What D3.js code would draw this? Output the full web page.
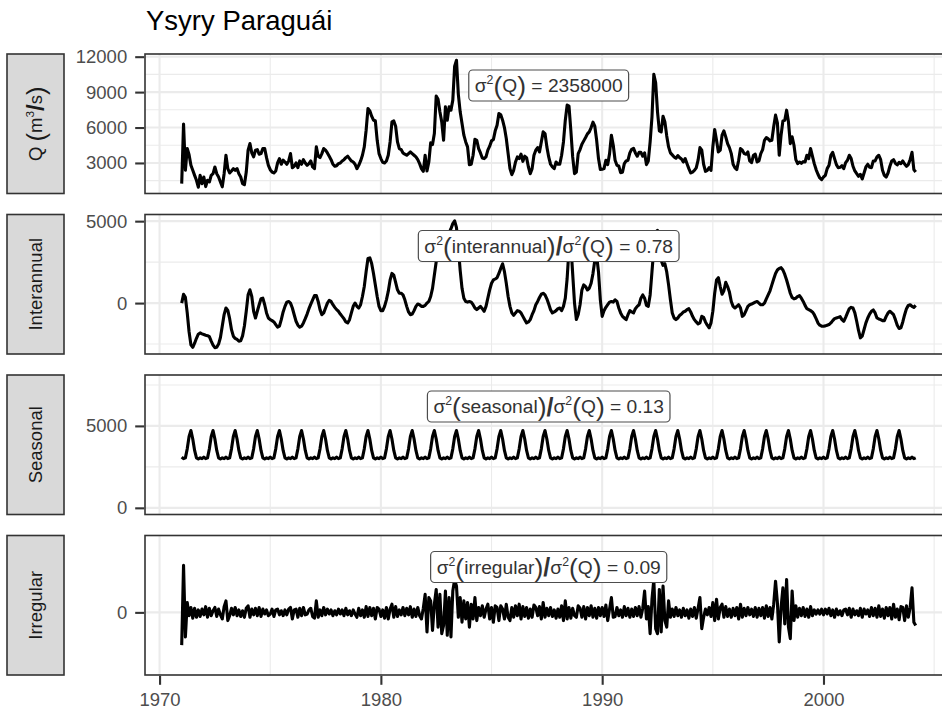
<!DOCTYPE html>
<html>
<head>
<meta charset="utf-8">
<script src="https://cdn.jsdelivr.net/npm/d3@7"></script>
<style>
  body { margin: 0; background: #ffffff; }
  svg { display: block; }
</style>
</head>
<body>
<svg id="chart" width="942" height="711"></svg>
<script>
// Monthly series, January 1971 to March 2004
const startYear = 1971;

// Discharge Q (m3/s)
const discharge = [
  1250, 6300, 2380, 4220, 3700, 2800, 2380, 1950, 1530, 950, 1950, 1250,
  1810, 1000, 1530, 1390, 1950, 2090, 2660, 2090, 1810, 1390, 980, 2090,
  3650, 2520, 2150, 2320, 2520, 2380, 2520, 2090, 1810, 1250, 1160, 2230,
  4080, 4640, 3850, 3510, 4080, 4130, 3740, 3790, 4220, 4220, 3450, 2800,
  2430, 2230, 2150, 2320, 3000, 3370, 2890, 3230, 3080, 2890, 3170, 3790,
  2600, 2720, 3000, 2600, 3170, 2890, 3280, 3000, 2800, 2940, 3170, 2660,
  2520, 4360, 3570, 3450, 3790, 4220, 4080, 3850, 3570, 3280, 2890, 2720,
  2770, 2940, 3000, 3170, 3280, 3450, 3570, 3370, 3170, 3080, 2890, 2520,
  2800, 3170, 3650, 4360, 5770, 7610, 7410, 6960, 6620, 6570, 4920, 3790,
  3370, 3050, 3000, 3170, 3650, 4780, 6480, 6560, 6110, 4780, 4220, 4130,
  3850, 3740, 3650, 3790, 3930, 3790, 3650, 3510, 3280, 2940, 2520, 2290,
  3650, 2320, 3080, 4700, 4560, 5490, 8670, 8390, 7330, 6480, 4920, 7750,
  6620, 7750, 7470, 8320, 11200, 11690, 8810, 7330, 6340, 5350, 4780, 4360,
  2850, 2890, 3650, 5010, 4920, 4220, 3850, 3420, 3370, 3510, 4080, 4420,
  4870, 4980, 5720, 6200, 7190, 7080, 6620, 6000, 5070, 3790, 2520, 2010,
  2380, 3080, 3510, 3370, 3740, 3140, 3570, 3450, 2660, 2090, 2520, 3650,
  4080, 4300, 3930, 4780, 5630, 5490, 4360, 3510, 2890, 2660, 2520, 3080,
  2890, 2890, 3650, 4780, 6620, 7900, 7810, 5770, 3510, 2090, 2230, 3790,
  4130, 4580, 4870, 5150, 5460, 5630, 6000, 6450, 6110, 4920, 3370, 2440,
  2460, 2520, 3230, 2860, 3790, 5350, 4500, 3230, 2800, 2740, 2180, 2210,
  2940, 3170, 3230, 3850, 4160, 4240, 3850, 3570, 3900, 3900, 3570, 3850,
  2860, 3170, 4780, 6910, 10500, 9790, 7330, 5720, 5630, 6960, 6480, 5290,
  4360, 3850, 3680, 3510, 3400, 3620, 3450, 3340, 3080, 3370, 2940, 2520,
  2150, 2230, 2370, 2580, 3230, 4300, 4080, 2890, 2290, 2370, 2600, 2370,
  4360, 5830, 4920, 3930, 4080, 5350, 5720, 5210, 4640, 4300, 3790, 2890,
  2580, 2440, 3230, 4220, 4080, 3790, 3740, 3930, 3170, 3030, 3650, 3740,
  3080, 3170, 3790, 4130, 4920, 5150, 5040, 4870, 4920, 6060, 7050, 6400,
  3650, 5350, 6560, 6620, 7470, 6480, 4640, 5210, 4500, 3280, 2940, 3080,
  2970, 3110, 3080, 3650, 3370, 4220, 3570, 2940, 2440, 2040, 1730, 1580,
  1810, 1950, 2520, 2800, 3650, 3900, 3370, 2860, 2600, 2630, 2770, 2520,
  3030, 3230, 3650, 3370, 2720, 2320, 2090, 1870, 2040, 1640, 2150, 2660,
  2890, 2630, 2600, 3170, 3170, 3510, 3650, 3280, 2380, 1950, 1810, 2150,
  2720, 3170, 3280, 2970, 2830, 3050, 2940, 3170, 2910, 2720, 2860, 3300,
  3900, 2440, 2230
];

// Interannual component
const interannual = [
  0, 540, 350, -600, -1750, -2550, -2700, -2450, -2150, -1900, -1820, -1880,
  -1920, -1960, -1990, -2050, -2320, -2560, -2720, -2700, -2500, -2100, -1400, -700,
  -300, -450, -950, -1620, -2020, -2160, -2220, -2320, -2300, -2000, -1400, -500,
  500, 810, 400, -500, -910, -500, -100, 260, 300, -100, -600, -910,
  -1010, -1070, -1150, -1310, -1470, -1410, -1010, -540, -200, 60, 100, 0,
  -300, -710, -1110, -1350, -1470, -1410, -1210, -950, -670, -340, -60, 200,
  460, 460, 100, -400, -710, -600, -300, 0, 160, 100, -100, -260,
  -400, -500, -670, -810, -950, -1150, -1210, -1010, -600, -200, 0, -200,
  -300, -100, 400, 1010, 1920, 2720, 2760, 2420, 1810, 1110, 400, -200,
  -460, -460, -200, 200, 710, 1410, 1810, 1710, 1270, 810, 600, 600,
  500, 200, -200, -540, -710, -670, -460, -200, -60, -100, -200, -200,
  -140, 0, 100, 400, 900, 1710, 2520, 2920, 3120, 3230, 3430, 3730,
  4030, 4290, 4540, 4850, 5019, 4600, 3400, 2000, 900, 300, 100, 60,
  100, 60, -100, -300, -400, -300, -200, -340, -500, -200, 300, 810,
  1210, 1410, 1470, 1550, 1810, 2120, 2400, 1920, 1210, 400, -200, -600,
  -750, -600, -460, -500, -600, -810, -1010, -1210, -1150, -1010, -710, -460,
  -100, 100, 340, 540, 600, 500, 260, -60, -400, -600, -540, -460,
  -340, -300, -460, -200, 300, 1500, 3300, 3600, 1800, 0, -1000, -700,
  -100, 800, 1110, 1010, 800, 900, 1210, 1800, 2600, 2900, 1900, 200,
  -810, -460, -260, -100, 60, 100, 60, 200, 100, -300, -600, -810,
  -910, -1010, -710, -460, -540, -600, -340, -200, -100, 300, 500, 300,
  -140, -200, 500, 1920, 3330, 4330, 4440, 3530, 2600, 2300, 2400, 1900,
  1110, 200, -600, -910, -1010, -910, -750, -670, -540, -500, -400, -340,
  -540, -810, -1010, -1150, -1270, -1210, -810, -870, -1150, -1350, -1510, -1210,
  -500, 600, 1410, 1550, 1010, 540, 750, 1270, 1010, 670, 100, -200,
  -300, -200, -100, -300, -810, -710, -460, -200, -100, -60, 0, 60,
  100, 0, -100, -100, 0, 260, 500, 750, 1110, 1470, 1810, 2020,
  2120, 2160, 2020, 1750, 1410, 1010, 600, 340, 260, 300, 400, 460,
  300, 100, -140, -340, -400, -460, -540, -710, -950, -1210, -1350, -1410,
  -1410, -1390, -1350, -1310, -1210, -1070, -950, -910, -870, -830, -1010, -1110,
  -870, -600, -340, -260, -300, -600, -1110, -1670, -2120, -2020, -1610, -1210,
  -910, -670, -500, -420, -600, -910, -970, -1010, -1070, -1070, -810, -600,
  -500, -600, -710, -1010, -1350, -1550, -1510, -1150, -710, -340, -140, -100,
  -200, -260, -140
];

// Seasonal component: mean annual cycle, January to December
const seasonalCycle = [3100, 3000, 3050, 3600, 4350, 4720, 4200, 3500, 3050, 2980, 3050, 3000];

// Irregular component
const irregular = [
  -2000, 2870, -1500, 600, -200, 300, -350, 250, -300, 150, -250, 200,
  -150, 350, -300, 250, -200, 100, 300, -250, 200, -150, -400, 350,
  700, -500, -200, 250, -150, 300, -200, 150, -250, 100, -300, 250,
  400, -300, 200, -150, 250, -200, 300, -250, 200, -100, 150, -200,
  -100, 200, -250, 150, 200, -150, 100, -200, 150, -150, 200, 300,
  -400, 150, 200, -300, 250, -200, 300, -150, -100, 150, 250, -250,
  -350, 700, -300, 150, -200, 300, -150, 200, -100, 150, -200, 100,
  -150, 200, -100, 150, -200, 250, -150, 100, -200, 150, -100, -300,
  250, -200, 150, -300, 350, -250, 300, -200, 250, -400, 300, 200,
  -250, 150, -350, 300, -400, 200, 500, -300, 350, -250, 150, -150,
  300, -200, 250, -150, 350, -300, 200, -250, 300, -200, -400, 250,
  1100, -1200, 900, 700, -1100, 500, 1400, -900, 1100, -1300, -800, 1300,
  -1400, 900, -1500, 1300, 2000, 1600, -300, 900, -600, 700, -400, 600,
  -900, 500, -400, 900, -500, 300, -200, 400, -300, 200, 500, -400,
  300, -600, 400, 300, -500, 400, 200, -400, 500, -300, -500, 300,
  -300, 400, -200, 500, -400, 350, -250, 300, -350, 200, -300, 450,
  300, -200, 350, -400, 600, -300, 250, -200, 300, -250, 150, -350,
  200, -300, 400, -500, 700, -400, 300, -350, 250, -200, -300, 400,
  250, -300, 350, -400, 300, -200, 400, -300, 250, -350, 300, -200,
  300, -250, 450, -500, 200, 900, -300, -250, 300, -200, 150, -300,
  350, -200, 250, -300, 200, -250, 300, -200, 350, -300, 250, 1300,
  -400, 350, -1300, 800, 2000, -1000, -1300, 1400, -1200, 1600, -500, -900,
  700, -300, 200, -250, 300, -200, 150, -300, 250, -200, 150, -350,
  200, -250, 300, -350, 250, 900, -1000, -300, 200, -150, 300, -250,
  600, -500, 800, -400, 300, 500, -300, 350, -250, 200, -300, 250,
  -200, 300, -400, 500, -300, 250, -200, 300, -150, 200, -250, 300,
  -300, 250, -200, 300, -350, 400, -250, 300, -400, 500, 1900, 600,
  -1800, 300, 1500, -700, 2000, -900, -1600, 1300, -500, 400, -300, 250,
  -200, 300, -250, 200, -300, 350, -200, 150, -100, 150, -100, 200,
  -150, 200, -100, 250, -200, 150, -300, 200, -150, 100, -200, 150,
  200, -150, 250, -300, 200, -150, 100, -200, 250, -300, 200, -100,
  150, -250, 300, -200, 250, -300, 400, -250, 200, -350, 300, -200,
  300, -400, 500, -300, 200, -450, 350, 300, -500, 400, -300, 300,
  1500, -600, -800
];

// Panel names, tick values and annotation values
const panelNames = ["Q", "Interannual", "Seasonal", "Irregular"];
const componentNames = ["interannual", "seasonal", "irregular"];
const varianceQ = 2358000;
const varianceRatios = [0.78, 0.13, 0.09];
const xTicks = [1970, 1980, 1990, 2000];
const yTicksQ = [3000, 6000, 9000, 12000];
const yTicksInterannual = [0, 5000];
const yTicksSeasonal = [0, 5000];
const yTicksIrregular = [0];

const chartTitle = "Ysyry Paraguái";

// ---------------------------------------------------------------------------
const FONT = "'Liberation Sans', Arial, Helvetica, sans-serif";
const svg = d3.select("#chart");

const panelLeft = 145, panelRight = 952.4;
const panelTops = [54, 214.5, 375, 535.5];
const panelHeight = 139.5;
const stripX = 7, stripW = 57;

const time = discharge.map((_, i) => startYear + i / 12);
const seasonal = time.map((_, i) => seasonalCycle[i % 12]);

// x scale with 5% expansion around the data
const tExt = d3.extent(time);
const tPad = (tExt[1] - tExt[0]) * 0.05;
const x = d3.scaleLinear().domain([tExt[0] - tPad, tExt[1] + tPad]).range([panelLeft, panelRight]);

// Q scale: data range with 5% expansion
const qExt = d3.extent(discharge);
const qPad = (qExt[1] - qExt[0]) * 0.05;
const qDomain = [qExt[0] - qPad, qExt[1] + qPad];

// Components share one span, centred on each component's own mid-range
const components = [interannual, seasonal, irregular];
const halfSpan = d3.max(components, s => { const e = d3.extent(s); return (e[1] - e[0]) / 2; }) * 1.1;
const compDomain = s => { const e = d3.extent(s); const m = (e[0] + e[1]) / 2; return [m - halfSpan, m + halfSpan]; };

const panels = [
  { name: panelNames[0], values: discharge, domain: qDomain, ticks: yTicksQ },
  { name: panelNames[1], values: interannual, domain: compDomain(interannual), ticks: yTicksInterannual },
  { name: panelNames[2], values: seasonal, domain: compDomain(seasonal), ticks: yTicksSeasonal },
  { name: panelNames[3], values: irregular, domain: compDomain(irregular), ticks: yTicksIrregular }
];

// Minor breaks: halfway between majors, extended one step each side
function minorBreaks(ticks, domain) {
  if (ticks.length < 2) return [];
  const step = ticks[1] - ticks[0];
  const out = [];
  for (let v = ticks[0] - step / 2; v <= ticks[ticks.length - 1] + step / 2 + 1e-9; v += step) out.push(v);
  return out.filter(v => v >= domain[0] && v <= domain[1]);
}
const xMinor = minorBreaks(xTicks, x.domain());

// Title
svg.append("text")
  .attr("x", 146).attr("y", 29.5)
  .attr("font-family", FONT).attr("font-size", 27.5).attr("fill", "#000")
  .text(chartTitle);

// Rich text helper: parts with optional superscript / enlarged / bold glyphs
function richText(sel, parts, baseSize) {
  let shift = 0;
  parts.forEach(p => {
    const ts = sel.append("tspan").text(p.t);
    let target = 0, size = baseSize, weight = null;
    if (p.sup) { target = -0.42 * baseSize; size = baseSize * 0.64; }
    if (p.big) { target = 0.16 * baseSize; size = baseSize * 1.38; }
    if (p.slash) { target = 0.12 * baseSize; size = baseSize * 1.3; weight = "bold"; }
    ts.attr("font-size", size).attr("dy", target - shift);
    if (weight) ts.attr("font-weight", weight);
    shift = target;
  });
}

function sigmaOf(inner) {
  return [{ t: "σ" }, { t: "2", sup: true }, { t: "(", big: true }, { t: inner }, { t: ")", big: true }];
}

const labelParts = [
  sigmaOf("Q").concat([{ t: " = " + d3.format("d")(varianceQ) }])
].concat(componentNames.map((c, i) =>
  sigmaOf(c).concat([{ t: "/", slash: true }]).concat(sigmaOf("Q")).concat([{ t: " = " + d3.format(".2f")(varianceRatios[i]) }])
));

const labelX = x((tExt[0] + tExt[1]) / 2);

panels.forEach((p, pi) => {
  const top = panelTops[pi], bottom = top + panelHeight;
  const y = d3.scaleLinear().domain(p.domain).range([bottom, top]);
  const g = svg.append("g");

  g.append("rect").attr("x", panelLeft).attr("y", top)
    .attr("width", panelRight - panelLeft).attr("height", panelHeight).attr("fill", "#fff");

  // minor grid
  g.selectAll(".vmin").data(xMinor).join("line")
    .attr("x1", d => x(d)).attr("x2", d => x(d)).attr("y1", top).attr("y2", bottom)
    .attr("stroke", "#ebebeb").attr("stroke-width", 1.1);
  g.selectAll(".hmin").data(minorBreaks(p.ticks, p.domain)).join("line")
    .attr("x1", panelLeft).attr("x2", panelRight).attr("y1", d => y(d)).attr("y2", d => y(d))
    .attr("stroke", "#ebebeb").attr("stroke-width", 1.1);
  // major grid
  g.selectAll(".vmaj").data(xTicks).join("line")
    .attr("x1", d => x(d)).attr("x2", d => x(d)).attr("y1", top).attr("y2", bottom)
    .attr("stroke", "#ebebeb").attr("stroke-width", 2.1);
  g.selectAll(".hmaj").data(p.ticks.filter(v => v >= p.domain[0] && v <= p.domain[1])).join("line")
    .attr("x1", panelLeft).attr("x2", panelRight).attr("y1", d => y(d)).attr("y2", d => y(d))
    .attr("stroke", "#ebebeb").attr("stroke-width", 2.1);

  // series line
  const line = d3.line().x((d, i) => x(time[i])).y(d => y(d));
  g.append("path").datum(p.values)
    .attr("d", line).attr("fill", "none").attr("stroke", "#000")
    .attr("stroke-width", 3.1).attr("stroke-linejoin", "round").attr("stroke-linecap", "butt");

  // variance label
  const lg = g.append("g");
  const cy = top + 31.5;
  const txt = lg.append("text")
    .attr("x", labelX).attr("y", cy + 6.8)
    .attr("text-anchor", "middle")
    .attr("font-family", FONT).attr("fill", "#333");
  richText(txt, labelParts[pi], 19.2);
  const bb = txt.node().getBBox();
  lg.insert("rect", "text")
    .attr("x", bb.x - 6).attr("y", cy - 15.5)
    .attr("width", bb.width + 12).attr("height", 31)
    .attr("rx", 4).attr("ry", 4)
    .attr("fill", "#fff").attr("stroke", "#4d4d4d").attr("stroke-width", 1.2);

  // border
  g.append("rect").attr("x", panelLeft).attr("y", top)
    .attr("width", panelRight - panelLeft).attr("height", panelHeight)
    .attr("fill", "none").attr("stroke", "#333").attr("stroke-width", 1.6);

  // y axis
  const ax = svg.append("g").attr("transform", `translate(${panelLeft - 0.8},0)`)
    .call(d3.axisLeft(y).tickValues(p.ticks).tickSize(9).tickPadding(8).tickFormat(d3.format("d")));
  ax.select(".domain").remove();
  ax.selectAll(".tick line").attr("stroke", "#333").attr("stroke-width", 2.1);
  ax.selectAll(".tick text").attr("fill", "#4d4d4d").attr("font-size", 18.5).attr("font-family", FONT);

  // strip
  svg.append("rect").attr("x", stripX).attr("y", top).attr("width", stripW).attr("height", panelHeight)
    .attr("fill", "#d9d9d9").attr("stroke", "#333").attr("stroke-width", 1.6);
  const st = svg.append("text")
    .attr("transform", `translate(${stripX + stripW / 2 + 6.5},${top + panelHeight / 2}) rotate(-90)`)
    .attr("text-anchor", "middle").attr("font-family", FONT).attr("fill", "#1a1a1a");
  if (pi === 0) {
    richText(st, [{ t: "Q " }, { t: "(", big: true }, { t: "m" }, { t: "3", sup: true },
                  { t: "/", slash: true }, { t: "s" }, { t: ")", big: true }], 18.5);
  } else {
    st.attr("font-size", 18.5).text(p.name);
  }

  // bottom axis on the last panel
  if (pi === panels.length - 1) {
    const bx = svg.append("g").attr("transform", `translate(0,${bottom + 0.8})`)
      .call(d3.axisBottom(x).tickValues(xTicks).tickSize(9).tickPadding(8).tickFormat(d3.format("d")));
    bx.select(".domain").remove();
    bx.selectAll(".tick line").attr("stroke", "#333").attr("stroke-width", 2.1);
    bx.selectAll(".tick text").attr("fill", "#4d4d4d").attr("font-size", 18.5).attr("font-family", FONT);
  }
});
</script>
</body>
</html>
